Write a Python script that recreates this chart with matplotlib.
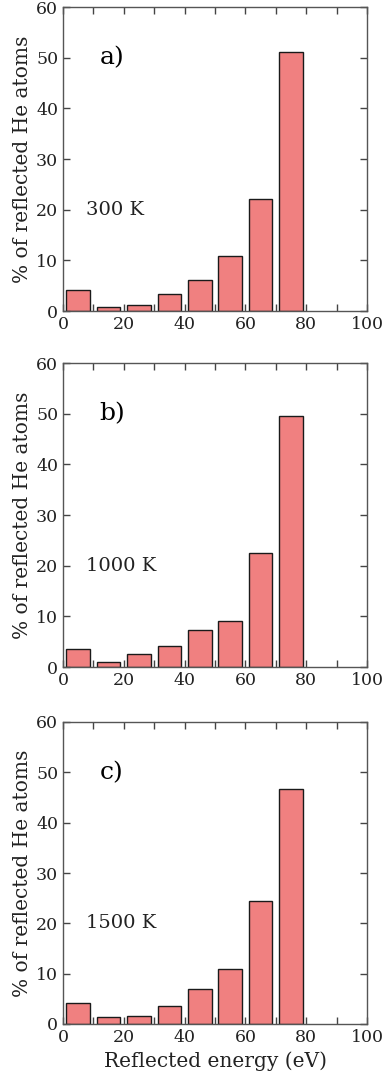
import matplotlib
matplotlib.use("Agg")
import matplotlib.pyplot as plt
from matplotlib.ticker import MultipleLocator

energy_bins = [5, 15, 25, 35, 45, 55, 65, 75]
pct_300K = [4.1, 0.7, 1.2, 3.35, 6.1, 10.85, 22.1, 51.1]
pct_1000K = [3.6, 0.9, 2.5, 4.15, 7.25, 9.0, 22.5, 49.6]
pct_1500K = [4.25, 1.4, 1.65, 3.5, 6.95, 10.85, 24.5, 46.7]
panel_labels = ["a)", "b)", "c)"]
temp_labels = ["300 K", "1000 K", "1500 K"]

plt.rcParams['font.family'] = ['DejaVu Serif']

W, H = 382, 1078
fig = plt.figure(figsize=(W / 100, H / 100), dpi=100)

boxes = [(63, 7, 311), (63, 363, 667), (63, 722, 1024)]
series = [pct_300K, pct_1000K, pct_1500K]
txtcol = '#222222'

for i, ((lx, top, bot), vals) in enumerate(zip(boxes, series)):
    ax = fig.add_axes([lx / W, 1 - bot / H, 304 / W, (bot - top) / H])
    ax.bar(energy_bins, vals, width=7.8, color='#F08080', edgecolor='#1a1a1a', linewidth=1.0)
    ax.set_xlim(0, 100)
    ax.set_ylim(0, 60)
    ax.xaxis.set_major_locator(MultipleLocator(20))
    ax.xaxis.set_minor_locator(MultipleLocator(10))
    ax.yaxis.set_major_locator(MultipleLocator(10))
    ax.tick_params(which='both', direction='in', top=True, right=True,
                   colors='#444444', labelcolor=txtcol, labelsize=12.5, width=1.0)
    ax.tick_params(which='major', length=5)
    ax.tick_params(which='minor', length=5)
    for s in ax.spines.values():
        s.set_color('#555555')
        s.set_linewidth(1.0)
    ax.set_ylabel('% of reflected He atoms', fontsize=14.5, color=txtcol, labelpad=3)
    ax.text(12, 50, panel_labels[i], fontsize=18, color='black', va='center', ha='left')
    ax.text(7.5, 20, temp_labels[i], fontsize=14, color=txtcol, va='center', ha='left')
    if i == 2:
        ax.set_xlabel('Reflected energy (eV)', fontsize=14.5, color=txtcol, labelpad=4)

fig.savefig('out.png', dpi=100)
